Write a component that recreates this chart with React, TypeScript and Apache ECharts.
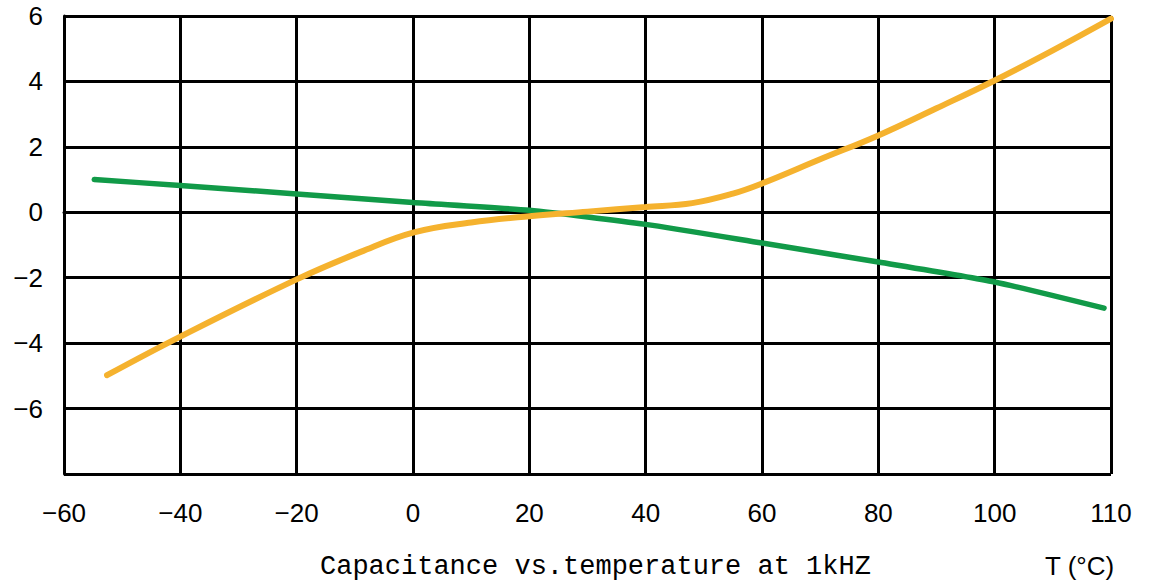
import React, { useEffect, useRef } from "react";
import * as echarts from "echarts";

// Temperature tick labels (x axis is equally spaced per label, last step is 10 °C)
const xTicks = [-60, -40, -20, 0, 20, 40, 60, 80, 100, 110];
const yTicks = [-8, -6, -4, -2, 0, 2, 4, 6];

// Orange curve: [temperature °C, ΔC %]
const orangeT = [-52.6, -40, -20, -9, 0, 10, 20, 30, 40, 48, 55, 60, 70, 80, 90, 100, 105, 110];
const orangeV = [-4.98, -3.8, -2.05, -1.21, -0.62, -0.31, -0.12, 0.02, 0.16, 0.28, 0.57, 0.88, 1.62, 2.35, 3.18, 4.03, 4.95, 5.92];

// Green curve
const greenT = [-54.8, -40, -20, 0, 20, 40, 60, 80, 100, 109.4];
const greenV = [1.0, 0.82, 0.56, 0.3, 0.06, -0.37, -0.94, -1.52, -2.13, -2.93];

const minus = (v: number) => (v < 0 ? "\u2212" + Math.abs(v) : String(v));

// piecewise axis transform: temperature -> tick index position
function tPos(t: number): number {
  for (let i = 0; i < xTicks.length - 1; i++) {
    const a = xTicks[i];
    const b = xTicks[i + 1];
    if (t <= b || i === xTicks.length - 2) {
      return i + (t - a) / (b - a);
    }
  }
  return xTicks.length - 1;
}

export default function App() {
  const ref = useRef<HTMLDivElement>(null);
  useEffect(() => {
    if (!ref.current) return;
    const chart = echarts.init(ref.current, undefined, { renderer: "svg" });
    const font = "'Liberation Sans', Arial, sans-serif";
    chart.setOption({
      animation: false,
      backgroundColor: "#ffffff",
      grid: { left: 64, right: 38, top: 16, bottom: 111, containLabel: false },
      xAxis: {
        type: "value",
        min: 0,
        max: xTicks.length - 1,
        interval: 1,
        axisLine: { show: true, lineStyle: { color: "#000", width: 3 } },
        axisTick: { show: false },
        splitLine: { show: true, lineStyle: { color: "#000", width: 3 } },
        axisLabel: {
          color: "#000",
          fontSize: 26,
          fontFamily: font,
          margin: 26,
          formatter: (v: number) => {
            const i = Math.round(v);
            return xTicks[i] !== undefined ? minus(xTicks[i]) : "";
          },
        },
      },
      yAxis: {
        type: "value",
        min: -8,
        max: 6,
        interval: 2,
        axisLine: { show: true, lineStyle: { color: "#000", width: 3 } },
        axisTick: { show: false },
        splitLine: { show: true, lineStyle: { color: "#000", width: 3 } },
        axisLabel: {
          color: "#000",
          fontSize: 26,
          fontFamily: font,
          margin: 21,
          formatter: (v: number) => (v === yTicks[0] ? "" : minus(v)),
        },
      },
      series: [
        {
          type: "line",
          data: greenT.map((t, i) => [tPos(t), greenV[i]]),
          showSymbol: false,
          smooth: 0.2,
          lineStyle: { color: "#119A48", width: 5.5, cap: "round" },
          z: 3,
        },
        {
          type: "line",
          data: orangeT.map((t, i) => [tPos(t), orangeV[i]]),
          showSymbol: false,
          smooth: 0.4,
          lineStyle: { color: "#F5B22E", width: 6, cap: "round" },
          z: 4,
        },
      ],
      graphic: [
        {
          type: "text",
          left: 320,
          top: 553,
          style: {
            text: "Capacitance vs.temperature at 1kHZ",
            fontSize: 27,
            fontFamily: "'Liberation Mono', 'DejaVu Sans Mono', monospace",
            fill: "#000",
          },
        },
        {
          type: "text",
          left: 1045,
          top: 553,
          style: {
            text: "T (\u00B0C)",
            fontSize: 26,
            fontFamily: font,
            fill: "#000",
          },
        },
      ],
    });
    return () => chart.dispose();
  }, []);
  return (
    <div
      ref={ref}
      style={{ position: "fixed", left: 0, top: 0, width: 1149, height: 585 }}
    />
  );
}
